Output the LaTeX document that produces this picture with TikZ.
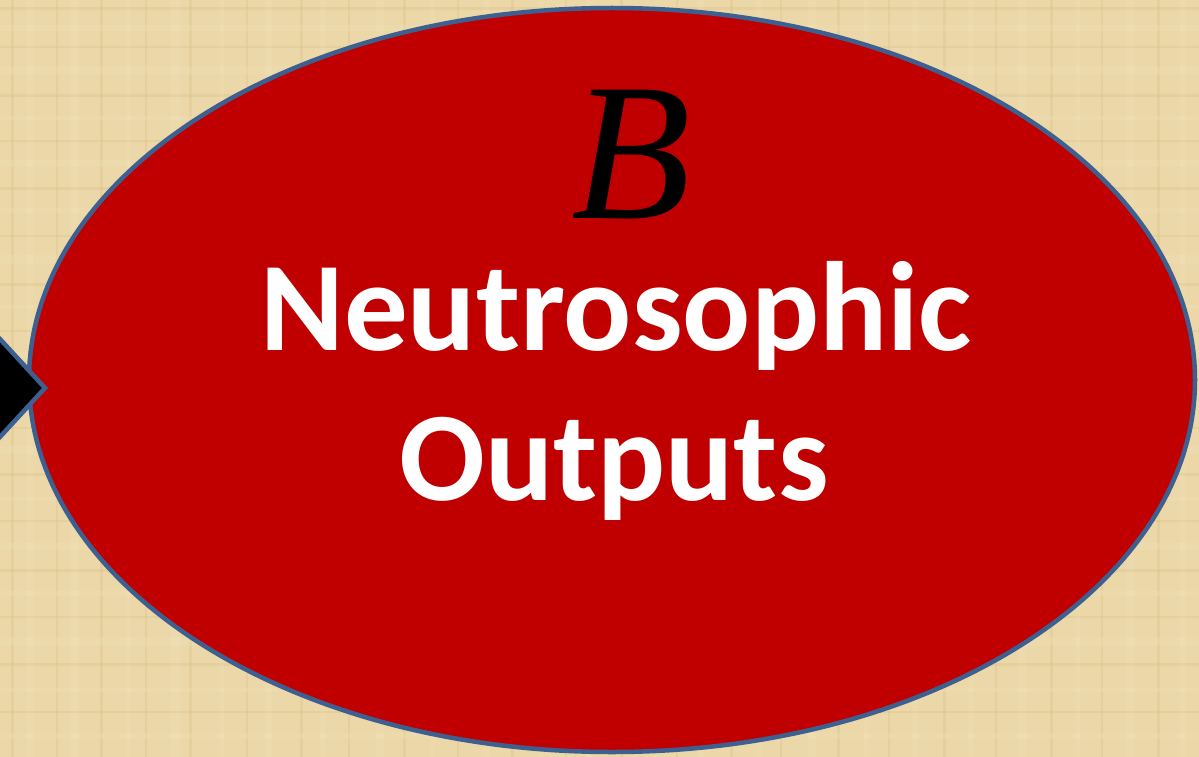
\documentclass[tikz,border=0pt]{standalone}
\usepackage{fontspec}
\usetikzlibrary{shapes.geometric}
\setmainfont{Carlito}
\newfontfamily\serifit{Liberation Serif}
\definecolor{bgtan}{RGB}{235,215,167}
\definecolor{bgdark}{RGB}{212,186,124}
\definecolor{bglight}{RGB}{246,232,192}
\definecolor{ovalred}{RGB}{192,0,0}
\definecolor{ovalblue}{RGB}{62,96,145}
\tikzset{
  oval/.style={draw=ovalblue, line width=4.5pt, fill=ovalred},
  arrowhead/.style={draw=ovalblue, line width=4.5pt, fill=black, line join=miter},
  bigtext/.style={text=white, font=\fontsize{127}{127}\selectfont\bfseries, anchor=base, inner sep=0pt},
  lettertext/.style={text=black, font=\serifit\fontsize{196}{196}\selectfont\itshape, anchor=base, inner sep=0pt},
  texture/.style={opacity=0.22}
}
\begin{document}
\begin{tikzpicture}[x=1pt,y=-1pt]
\useasboundingbox (0,0) rectangle (1199,757);
\fill[bgtan] (0,0) rectangle (1199,757);
% papyrus texture
\foreach \x/\w/\c in {12/3/bgdark,30/6/bglight,57/2/bgdark,75/8/bglight,101/3/bgdark,128/5/bglight,146/2/bgdark,175/9/bglight,190/3/bgdark,222/4/bglight,247/2/bgdark,268/7/bglight,301/3/bgdark,322/5/bglight,349/2/bgdark,380/8/bglight,404/3/bgdark,433/4/bglight,458/2/bgdark,487/6/bglight,512/3/bgdark,541/5/bglight,566/2/bgdark,590/9/bglight,621/3/bgdark,648/4/bglight,677/2/bgdark,700/7/bglight,731/3/bgdark,758/5/bglight,781/2/bgdark,812/8/bglight,838/3/bgdark,866/4/bglight,889/2/bgdark,915/6/bglight,944/3/bgdark,970/5/bglight,996/2/bgdark,1022/9/bglight,1051/3/bgdark,1078/4/bglight,1102/2/bgdark,1130/7/bglight,1158/3/bgdark,1182/5/bglight}
  \draw[texture,draw=\c,line width=\w pt] (\x,0) -- (\x,757);
\foreach \y/\w/\c in {9/3/bgdark,28/6/bglight,47/2/bgdark,70/8/bglight,96/3/bgdark,118/4/bglight,141/2/bgdark,163/7/bglight,188/3/bgdark,210/5/bglight,236/2/bgdark,259/9/bglight,284/3/bgdark,307/4/bglight,331/2/bgdark,356/6/bglight,379/3/bgdark,402/5/bglight,428/2/bgdark,450/8/bglight,474/3/bgdark,499/4/bglight,521/2/bgdark,546/7/bglight,570/3/bgdark,593/5/bglight,617/2/bgdark,641/9/bglight,664/3/bgdark,690/4/bglight,712/2/bgdark,736/6/bglight}
  \draw[texture,draw=\c,line width=\w pt] (0,\y) -- (1199,\y);
\node[oval, ellipse, minimum width=1166pt, minimum height=744pt, inner sep=0pt] (out) at (612,380) {};
\coordinate (tip) at (45,388);
\coordinate (up) at (-12,326);
\coordinate (down) at (-12,450);
\draw[arrowhead] (up) -- (tip) -- (down);
\node[lettertext] (b) at (631,218) {B};
\node[bigtext] (l1) at (616,350) {Neutrosophic};
\node[bigtext] (l2) at (614,500) {Outputs};
\end{tikzpicture}
\end{document}
